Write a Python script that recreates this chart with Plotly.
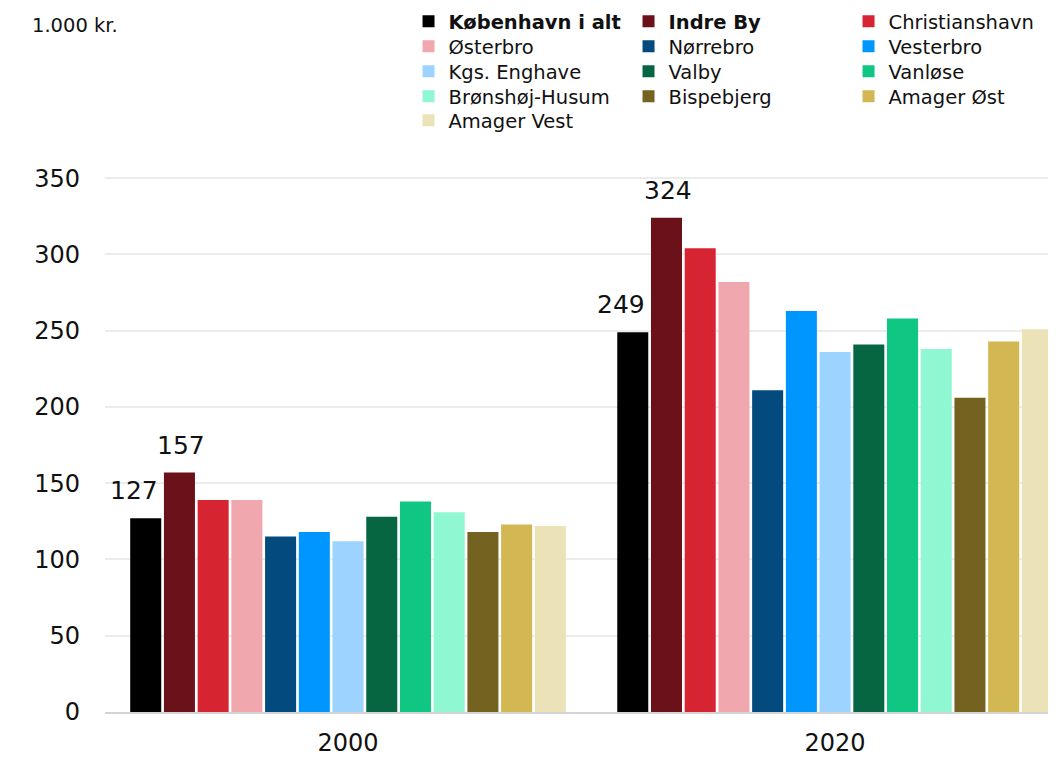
import plotly.graph_objects as go

years = ["2000", "2020"]
districts = ["København i alt", "Indre By", "Christianshavn", "Østerbro", "Nørrebro",
             "Vesterbro", "Kgs. Enghave", "Valby", "Vanløse", "Brønshøj-Husum",
             "Bispebjerg", "Amager Øst", "Amager Vest"]
values_2000 = [127, 157, 139, 139, 115, 118, 112, 128, 138, 131, 118, 123, 122]
values_2020 = [249, 324, 304, 282, 211, 263, 236, 241, 258, 238, 206, 243, 251]
colors = ["#000000", "#6b111a", "#d62433", "#f0a7ad", "#034a7e", "#0096ff", "#9dd3ff",
          "#066642", "#0fc683", "#8ff7d1", "#736220", "#d2b753", "#ebe2b8"]
labelled = ["København i alt", "Indre By"]
bold = ["København i alt", "Indre By"]

FONT = "DejaVu Sans"
TXT = "#111111"
BARGAP = 0.1
n = len(districts)
slot = (1 - BARGAP) / n
legend_ids = ["legend", "legend2", "legend3", "legend4", "legend5"]

fig = go.Figure()
annotations = []
for i, name in enumerate(districts):
    vals = [values_2000[i], values_2020[i]]
    disp = f"<b>{name}</b>" if name in bold else name
    fig.add_trace(go.Bar(
        x=years, y=vals, name=disp,
        marker=dict(color=colors[i], line=dict(width=0)),
        legend=legend_ids[i // 3],
        hoverinfo="x+y+name",
    ))
    if name in labelled:
        for k, v in enumerate(vals):
            xc = k - (1 - BARGAP) / 2 + slot * (i + 0.5)
            first = (i == 0)
            annotations.append(dict(
                x=xc, y=v, xref="x", yref="y", text=str(v), showarrow=False,
                xanchor="right" if first else "center", yanchor="bottom",
                xshift=14 if first else 2, yshift=11,
                font=dict(size=25, family=FONT, color=TXT)))

annotations.append(dict(text="1.000 kr.", xref="paper", yref="paper",
                        x=-0.0782, y=1.282, xanchor="left", yanchor="top",
                        showarrow=False, font=dict(size=19.5, family=FONT, color=TXT)))

leg_common = dict(orientation="h", yanchor="top", xanchor="left", x=0.3165,
                  entrywidth=175, entrywidthmode="pixels",
                  font=dict(size=19.5, family=FONT, color=TXT),
                  bgcolor="rgba(0,0,0,0)", borderwidth=0,
                  itemclick=False, itemdoubleclick=False)
row_y = [1.3004, 1.2546, 1.2088, 1.1630, 1.1190]
legends = {lid: dict(y=row_y[r], **leg_common) for r, lid in enumerate(legend_ids)}

fig.update_layout(
    width=1056, height=757,
    margin=dict(l=97, r=0, t=158, b=53, autoexpand=False),
    paper_bgcolor="white", plot_bgcolor="white",
    barmode="group", bargap=BARGAP, bargroupgap=0.08,
    font=dict(family=FONT, color=TXT),
    xaxis=dict(type="category", range=[-0.499, 1.47], showgrid=False,
               showline=True, linecolor="#d4d4d4", linewidth=2,
               ticks="", tickfont=dict(size=24, family=FONT, color=TXT), ticklabelstandoff=8),
    yaxis=dict(range=[0, 358], tickvals=[0, 50, 100, 150, 200, 250, 300, 350],
               showgrid=True, gridcolor="#ececec", gridwidth=1.5,
               zeroline=False, showline=False, ticks="",
               tickfont=dict(size=24, family=FONT, color=TXT), ticklabelstandoff=24),
    annotations=annotations,
    **legends,
)

fig.write_html("out.html")
